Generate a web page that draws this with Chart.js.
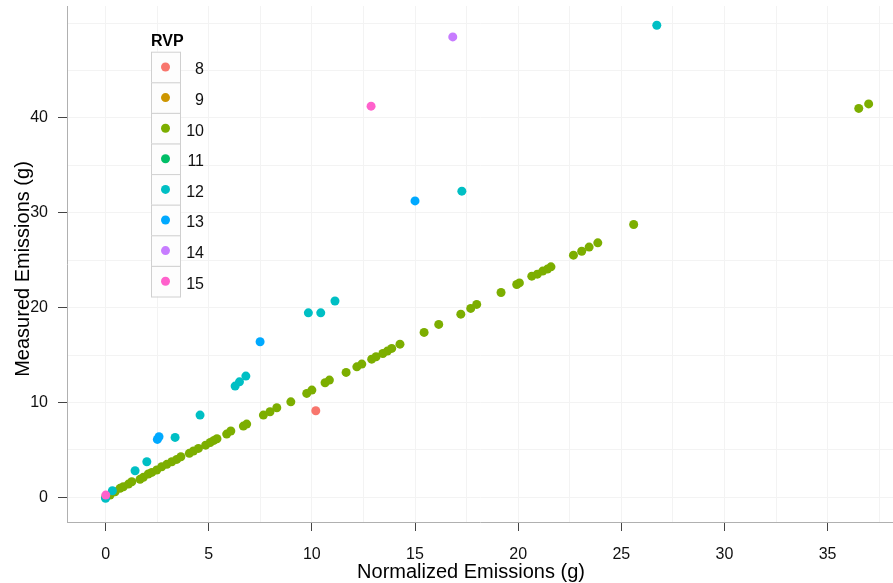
<!DOCTYPE html>
<html>
<head>
<meta charset="utf-8">
<script src="https://cdn.jsdelivr.net/npm/chart.js@4/dist/chart.umd.min.js"></script>
<style>
  body { margin: 0; background: #fff; }
  #wrap { width: 893px; height: 583px; }
</style>
</head>
<body>
<div id="wrap"><canvas id="myChart" width="893" height="583"></canvas></div>
<script>
// RVP groups as [normalized, measured] pairs
var rvpLevels = ['8', '9', '10', '11', '12', '13', '14', '15']
var rvpColors = ['#F8766D', '#CD9600', '#7CAE00', '#00BE67', '#00BFC4', '#00A9FF', '#C77CFF', '#FF61CC']

var rvp8 = [[10.19, 9.13]]
var rvp9 = []
var rvp10 = [
  [0, 0], [0.22, 0.24], [0.46, 0.59], [0.70, 0.95], [0.86, 1.12], [1.11, 1.40], [1.27, 1.64],
  [1.67, 1.90], [1.83, 2.11], [2.07, 2.46], [2.24, 2.63], [2.48, 2.88], [2.72, 3.22], [2.97, 3.48],
  [3.21, 3.75], [3.45, 4.00], [3.65, 4.28], [4.06, 4.64], [4.26, 4.88], [4.50, 5.16], [4.85, 5.50],
  [5.07, 5.78], [5.25, 6.00], [5.40, 6.18], [5.87, 6.67], [6.07, 6.99], [6.68, 7.51], [6.84, 7.72],
  [7.65, 8.67], [7.97, 9.02], [8.30, 9.44], [8.98, 10.07], [9.75, 10.96], [10.00, 11.31],
  [10.64, 12.08], [10.85, 12.36], [11.66, 13.17], [12.18, 13.76], [12.42, 14.05], [12.90, 14.57],
  [13.11, 14.82], [13.44, 15.17], [13.66, 15.42], [13.87, 15.70], [14.27, 16.15], [15.44, 17.39],
  [16.15, 18.23], [17.22, 19.31], [17.70, 19.92], [17.99, 20.34], [19.17, 21.60], [19.93, 22.44],
  [20.06, 22.61], [20.66, 23.32], [20.93, 23.53], [21.19, 23.85], [21.42, 24.06], [21.59, 24.30],
  [22.68, 25.53], [23.08, 25.95], [23.44, 26.38], [23.86, 26.83], [25.60, 28.77], [36.51, 41.00],
  [36.99, 41.48]
]
var rvp11 = []
var rvp12 = [
  [0, -0.1], [0.33, 0.70], [1.43, 2.80], [2.00, 3.75], [3.37, 6.32], [4.58, 8.67], [6.28, 11.73],
  [6.49, 12.18], [6.80, 12.78], [9.83, 19.45], [10.43, 19.45], [11.12, 20.70], [17.27, 32.28],
  [26.72, 49.77]
]
var rvp13 = [[2.51, 6.11], [2.59, 6.39], [7.49, 16.40], [15.00, 31.25]]
var rvp14 = [[16.83, 48.54]]
var rvp15 = [[0.01, 0.24], [12.87, 41.24]]

var xGrid = [0, 2.5, 5, 7.5, 10, 12.5, 15, 17.5, 20, 22.5, 25, 27.5, 30, 32.5, 35, 37.5]
var xTickLabels = [0, 5, 10, 15, 20, 25, 30, 35]
var yGrid = [0, 5, 10, 15, 20, 25, 30, 35, 40, 45, 50]
var yTickLabels = [0, 10, 20, 30, 40]
var xTitle = 'Normalized Emissions (g)'
var yTitle = 'Measured Emissions (g)'

var groups = [rvp8, rvp9, rvp10, rvp11, rvp12, rvp13, rvp14, rvp15]
// which group goes on top (lower = drawn later)
var drawOrder = [4, 6, 7, 6, 3, 2, 1, 0]

var datasets = []
for (var i = 0; i < groups.length; i++) {
  datasets.push({
    label: rvpLevels[i],
    data: groups[i].map(function (p) { return { x: p[0], y: p[1] } }),
    backgroundColor: rvpColors[i],
    borderWidth: 0,
    pointRadius: 4.5,
    order: drawOrder[i]
  })
}

var FONT = '"Liberation Sans", Arial, sans-serif'

// legend inside the panel + axis titles, placed like the original
var legendPlugin = {
  id: 'rvpLegend',
  afterDraw: function (chart) {
    var ctx = chart.ctx
    var left = 151, top = 51.7, w = 29, h = 30.6
    ctx.save()
    ctx.fillStyle = '#000'
    ctx.font = 'bold 16px ' + FONT
    ctx.textAlign = 'left'
    ctx.textBaseline = 'alphabetic'
    ctx.fillText('RVP', left, 46)
    ctx.font = '16px ' + FONT
    for (var i = 0; i < rvpLevels.length; i++) {
      var y = top + i * h
      ctx.fillStyle = '#fdfdfd'
      ctx.fillRect(left, y, w, h)
      ctx.strokeStyle = '#d0d0d0'
      ctx.lineWidth = 1
      ctx.strokeRect(left + 0.5, y + 0.5, w, h)
      ctx.fillStyle = rvpColors[i]
      ctx.beginPath()
      ctx.arc(left + w / 2, y + h / 2, 4.5, 0, Math.PI * 2)
      ctx.fill()
      ctx.fillStyle = '#111'
      ctx.textAlign = 'right'
      ctx.textBaseline = 'middle'
      ctx.fillText(rvpLevels[i], 204, y + h / 2 + 3)
    }

    // axis titles
    ctx.fillStyle = '#000'
    ctx.font = '20px ' + FONT
    ctx.textAlign = 'center'
    ctx.textBaseline = 'alphabetic'
    ctx.fillText(xTitle, 471, 578)
    ctx.translate(29, 269)
    ctx.rotate(-Math.PI / 2)
    ctx.fillText(yTitle, 0, 0)
    ctx.restore()
  }
}

var ctx = document.getElementById('myChart').getContext('2d')
var chart = new Chart(ctx, {
  type: 'scatter',
  data: { datasets: datasets },
  options: {
    responsive: false,
    animation: false,
    layout: { autoPadding: false, padding: { top: 6, right: 0, left: 0, bottom: 0 } },
    plugins: { legend: { display: false }, tooltip: { enabled: false } },
    scales: {
      x: {
        type: 'linear',
        min: -1.87,
        max: 38.17,
        afterBuildTicks: function (scale) {
          scale.ticks = xGrid.map(function (v) { return { value: v } })
        },
        afterFit: function (scale) {
          scale.height = 61
          scale.paddingLeft = 0
          scale.paddingRight = 0
        },
        ticks: {
          autoSkip: false,
          maxRotation: 0,
          padding: 14,
          color: '#111',
          font: { family: FONT, size: 16 },
          callback: function (v) { return xTickLabels.indexOf(v) >= 0 ? String(v) : '' }
        },
        grid: {
          color: '#f3f3f3',
          lineWidth: 1,
          tickLength: 9,
          tickColor: function (c) {
            return c.tick && xTickLabels.indexOf(c.tick.value) >= 0 ? '#444' : 'rgba(0,0,0,0)'
          }
        },
        border: { display: true, color: '#b0b0b0', width: 1 }
      },
      y: {
        type: 'linear',
        min: -2.6,
        max: 51.8,
        afterBuildTicks: function (scale) {
          scale.ticks = yGrid.map(function (v) { return { value: v } })
        },
        afterFit: function (scale) {
          scale.width = 67
          scale.paddingTop = 0
          scale.paddingBottom = 0
        },
        ticks: {
          autoSkip: false,
          padding: 10,
          color: '#111',
          font: { family: FONT, size: 16 },
          callback: function (v) { return yTickLabels.indexOf(v) >= 0 ? String(v) : '' }
        },
        grid: {
          color: '#f3f3f3',
          lineWidth: 1,
          tickLength: 9,
          tickColor: function (c) {
            return c.tick && yTickLabels.indexOf(c.tick.value) >= 0 ? '#444' : 'rgba(0,0,0,0)'
          }
        },
        border: { display: true, color: '#b0b0b0', width: 1 }
      }
    }
  },
  plugins: [legendPlugin]
})
</script>
</body>
</html>
